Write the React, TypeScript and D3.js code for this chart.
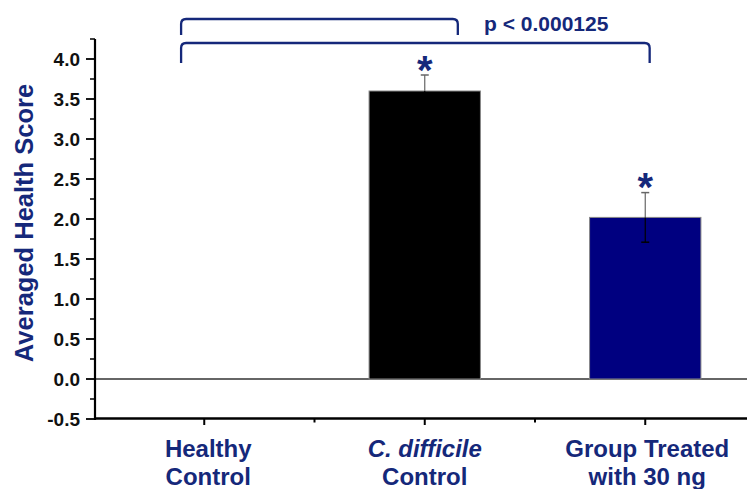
import React from "react";
import * as d3 from "d3";

const categories = ["Healthy|Control", "C. difficile|Control", "Group Treated|with 30 ng"];
const categoryPos = [1, 2, 3];
const values = [0, 3.6, 2.02];
const errors = [0, 0.2, 0.31];
const barColors = ["#ffffff", "#000000", "#000080"];
const significant = [false, true, true];
const yTickValues = [-0.5, 0, 0.5, 1, 1.5, 2, 2.5, 3, 3.5, 4];
const yMinorTicks = [-0.25, 0.25, 0.75, 1.25, 1.75, 2.25, 2.75, 3.25, 3.75, 4.25];
const xMinorTicks = [1.5, 2.5];
const pLabel = "p < 0.000125";
const yLabel = "Averaged Health Score";

const W = 747;
const H = 489;
const NAVY = "#15287a";
const FONT = "'Liberation Sans', Arial, sans-serif";

export default function App() {
  const x = d3.scaleLinear().domain([0.5, 3.5]).range([94, 755.5]);
  const y = d3.scaleLinear().domain([-0.5, 4]).range([419, 59]);
  const barW = x(1.5) - x(1);
  const bw = barW * 1.01;
  const f = d3.format(".1f");
  const fmt = (t: number) => f(t).replace("\u2212", "-");
  const axisX = x(0.5) + 1;

  const bracket = (x1: number, x2: number, yTop: number, yLeg: number, key: string) => {
    const r = 5;
    const X1 = x(x1), X2 = x(x2), Y = y(yTop), L = y(yLeg);
    const d = `M${X1},${L} L${X1},${Y + r} Q${X1},${Y} ${X1 + r},${Y} L${X2 - r},${Y} Q${X2},${Y} ${X2},${Y + r} L${X2},${L}`;
    return <path key={key} d={d} fill="none" stroke={NAVY} strokeWidth={2.3} />;
  };

  return (
    <svg width={W} height={H} style={{ position: "absolute", left: 0, top: 0, background: "#fff" }} fontFamily={FONT}>
      <line x1={axisX} x2={W} y1={y(0)} y2={y(0)} stroke="#333" strokeWidth={1.5} />
      {values.map((v, i) =>
        v > 0 ? (
          <rect key={"b" + i} x={x(categoryPos[i]) - bw / 2} y={y(v)} width={bw} height={y(0) - y(v)}
            fill={barColors[i]} stroke="#888" strokeWidth={1} />
        ) : null
      )}
      {values.map((v, i) => {
        if (errors[i] <= 0) return null;
        const cx = x(categoryPos[i]);
        return (
          <g key={"e" + i}>
            <line x1={cx} x2={cx} y1={y(v)} y2={y(v + errors[i])} stroke="#666" strokeWidth={1.2} />
            <line x1={cx - 4} x2={cx + 4} y1={y(v + errors[i])} y2={y(v + errors[i])} stroke="#666" strokeWidth={1.5} />
            <line x1={cx} x2={cx} y1={y(v)} y2={y(v - errors[i])} stroke="#000" strokeWidth={1.2} />
            <line x1={cx - 4} x2={cx + 4} y1={y(v - errors[i])} y2={y(v - errors[i])} stroke="#000" strokeWidth={1.5} />
          </g>
        );
      })}
      {values.map((v, i) =>
        significant[i] ? (
          <text key={"s" + i} x={x(categoryPos[i])} y={y(v + errors[i]) + 8.5}
            textAnchor="middle" fontSize={40} fontWeight="bold" fill={NAVY}>*</text>
        ) : null
      )}
      <line x1={axisX} x2={axisX} y1={y(4.25)} y2={y(-0.5) + 1} stroke="#000" strokeWidth={2.2} />
      {yTickValues.map((t) => (
        <g key={"yt" + t}>
          <line x1={axisX - 9} x2={axisX} y1={y(t)} y2={y(t)} stroke="#000" strokeWidth={1.8} />
          <text x={80} y={y(t) + 6.8} textAnchor="end" fontSize={19} fontWeight="bold" fill="#111">{fmt(t)}</text>
        </g>
      ))}
      {yMinorTicks.map((t) => (
        <line key={"ym" + t} x1={axisX - 5} x2={axisX} y1={y(t)} y2={y(t)} stroke="#000" strokeWidth={1.5} />
      ))}
      <line x1={axisX - 1} x2={W} y1={y(-0.5) - 0.5} y2={y(-0.5) - 0.5} stroke="#000" strokeWidth={2.7} />
      {categoryPos.map((c) => (
        <line key={"xt" + c} x1={x(c)} x2={x(c)} y1={y(-0.5)} y2={y(-0.5) + 6} stroke="#000" strokeWidth={2} />
      ))}
      {xMinorTicks.map((c) => (
        <line key={"xm" + c} x1={x(c)} x2={x(c)} y1={y(-0.5)} y2={y(-0.5) + 3.5} stroke="#000" strokeWidth={2} />
      ))}
      {categories.map((c, i) => {
        const [l1, l2] = c.split("|");
        const cx = x(categoryPos[i]) + (i === 0 ? 4 : i === 2 ? 2 : 0);
        const italic = l1.startsWith("C. ");
        return (
          <text key={"xl" + i} x={cx} textAnchor="middle" fontSize={24} fontWeight="bold" fill={NAVY}>
            <tspan x={cx} y={457} fontStyle={italic ? "italic" : "normal"}>{l1}</tspan>
            <tspan x={cx} y={485}>{l2}</tspan>
          </text>
        );
      })}
      <text transform={`translate(33,223) rotate(-90)`} textAnchor="middle" fontSize={25.5} fontWeight="bold" fill={NAVY}>{yLabel}</text>
      {bracket(0.895, 2.15, 4.5, 4.3, "br1")}
      {bracket(0.895, 3.02, 4.2, 3.95, "br2")}
      <text x={484} y={31} fontSize={21} fontWeight="bold" fill={NAVY}>{pLabel}</text>
    </svg>
  );
}
